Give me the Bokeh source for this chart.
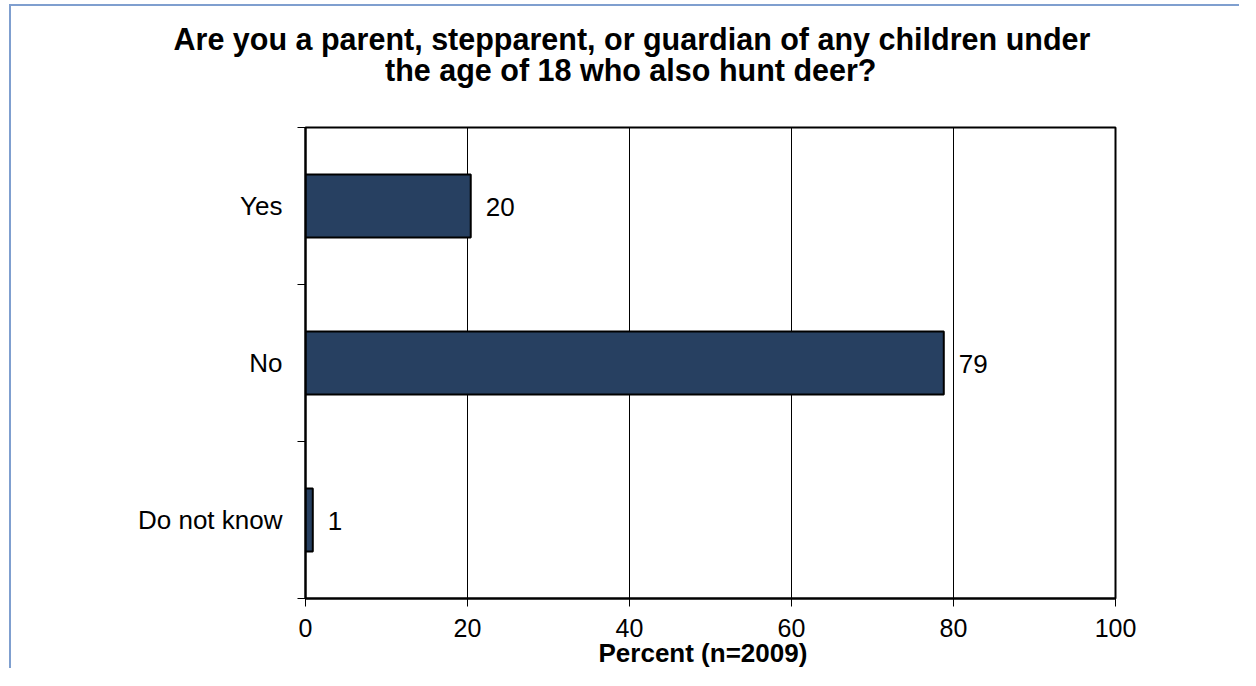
from bokeh.plotting import figure
from bokeh.models import Range1d, FixedTicker, Title
from bokeh.embed import file_html
from bokeh.resources import INLINE
from bokeh.core.properties import value

# ---- data ----
title_lines = ["Are you a parent, stepparent, or guardian of any children under",
               "the age of 18 who also hunt deer?"]
categories = ["Yes", "No", "Do not know"]
percents = [20.4, 78.8, 0.9]
value_labels = ["20", "79", "1"]
x_ticks = [0, 20, 40, 60, 80, 100]
x_label = "Percent (n=2009)"

FONT = "Liberation Sans"
n = len(categories)
ypos = [n - i - 0.5 for i in range(n)]
bounds = list(range(n + 1))

W, H = 1230, 664
p = figure(width=W, height=H, output_backend="svg", toolbar_location=None, title=None,
           x_range=Range1d(0, 100), y_range=Range1d(0, n),
           min_border_left=294, min_border_right=126,
           min_border_top=121, min_border_bottom=72,
           background_fill_color="white", border_fill_color="white")
p.styles = {"border-top": "2px solid #7F9FCF", "border-left": "2px solid #7F9FCF",
            "margin-left": "9px", "margin-top": "4px"}

p.hbar(y=ypos, left=0, right=percents, height=0.4,
       fill_color="#274061", line_color="black", line_width=2)

p.text(x=percents, y=ypos, text=value_labels, x_offset=15, y_offset=1,
       text_baseline="alphabetic", text_align="left",
       text_font=value(FONT), text_font_size="26px", text_color="black")

p.outline_line_color = "black"
p.outline_line_width = 2
p.outline_line_alpha = 1

p.xgrid.ticker = FixedTicker(ticks=x_ticks)
p.xgrid.grid_line_color = "black"
p.xgrid.grid_line_width = 1
p.ygrid.visible = False

xa = p.xaxis[0]
xa.ticker = FixedTicker(ticks=x_ticks)
xa.major_tick_out = 8
xa.major_tick_in = 0
xa.minor_tick_out = 0
xa.minor_tick_in = 0
xa.major_tick_line_color = "black"
xa.axis_line_color = "black"
xa.axis_line_width = 2
xa.major_label_text_font = FONT
xa.major_label_text_font_size = "25px"
xa.major_label_text_color = "black"
xa.major_label_standoff = 12

ya = p.yaxis[0]
ya.ticker = FixedTicker(ticks=ypos, minor_ticks=bounds)
ya.major_label_overrides = {y: c for y, c in zip(ypos, categories)}
ya.major_tick_out = 0
ya.major_tick_in = 0
ya.minor_tick_out = 8
ya.minor_tick_in = 0
ya.minor_tick_line_color = "black"
ya.axis_line_color = "black"
ya.axis_line_width = 2
ya.major_label_text_font = FONT
ya.major_label_text_font_size = "26px"
ya.major_label_text_color = "black"
ya.major_label_standoff = 15

# x-axis title, below the tick labels
p.add_layout(Title(text=x_label, align="left", offset=293, standoff=-8,
                   vertical_align="bottom",
                   text_font=FONT, text_font_size="26px", text_font_style="bold",
                   text_color="black"), "below")

# second line first (closest to the frame), then first line above it
for txt, off, so in [(title_lines[1], 79.5, 82), (title_lines[0], -132, -92)]:
    p.add_layout(Title(text=txt, align="left", offset=off, standoff=so,
                       text_font=FONT, text_font_size="30.5px", text_font_style="bold",
                       text_color="black"), "above")

open("out.html", "w").write(file_html(p, INLINE))
